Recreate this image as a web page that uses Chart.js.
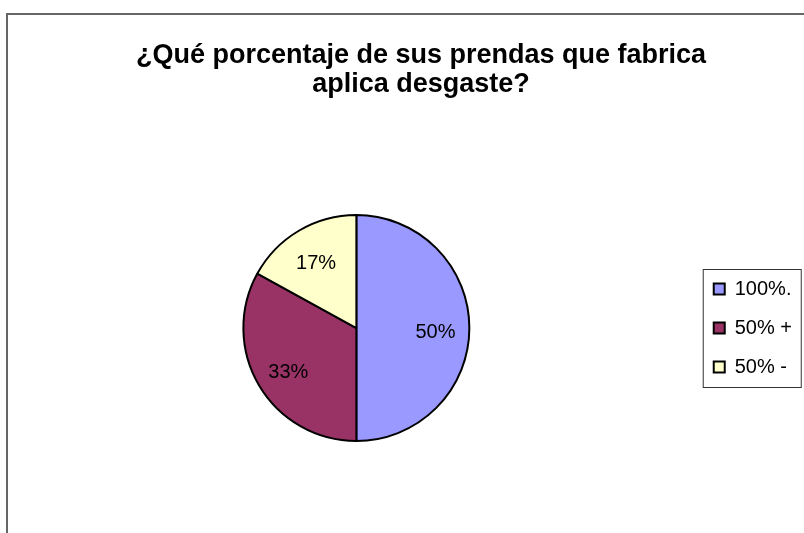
<!DOCTYPE html>
<html>
<head>
<meta charset="utf-8">
<title>Desgaste</title>
<script src="https://cdn.jsdelivr.net/npm/chart.js@4/dist/chart.umd.min.js"></script>
<style>
  html, body { margin: 0; padding: 0; background: #fff; overflow: hidden; }
  #wrap { position: absolute; left: 0; top: 0; width: 804px; height: 533px; overflow: hidden; }
  #desgasteChart { display: block; }
</style>
</head>
<body>
<div id="wrap"><canvas id="desgasteChart" width="844" height="560"></canvas></div>
<script>
var categories = ['100%.', '50% +', '50% -'];
var shares = [50, 33, 17];
var sliceColors = ['#9999ff', '#993366', '#ffffcc'];
var titleLines = ['¿Qué porcentaje de sus prendas que fabrica', 'aplica desgaste?'];

(function(){
  var FONT = '"Liberation Sans", Arial, sans-serif';

  // outer frame of the chart (right and bottom edges fall outside the page)
  var framePlugin = {
    id: 'frame',
    beforeDraw: function(chart){
      var ctx = chart.ctx;
      ctx.save();
      ctx.strokeStyle = '#666';
      ctx.lineWidth = 2;
      ctx.beginPath();
      ctx.moveTo(7, chart.height);
      ctx.lineTo(7, 14);
      ctx.lineTo(chart.width, 14);
      ctx.stroke();
      ctx.restore();
    }
  };

  // the title sits a bit right of the plot + legend centre
  var titleShiftPlugin = {
    id: 'titleShift',
    afterLayout: function(chart){
      var t = chart.titleBlock;
      if(!t) return;
      t.left += 11;
      t.right += 11;
    }
  };

  // thin box round the legend entries
  var legendBoxPlugin = {
    id: 'legendBox',
    afterDraw: function(chart){
      var lg = chart.legend;
      if(!lg || !lg.legendHitBoxes || !lg.legendHitBoxes.length) return;
      var boxes = lg.legendHitBoxes;
      var first = boxes[0], last = boxes[boxes.length - 1];
      var top = first.top + first.height / 2 - 20;
      var bottom = last.top + last.height / 2 + 20;
      var ctx = chart.ctx;
      ctx.save();
      ctx.strokeStyle = '#333';
      ctx.lineWidth = 1;
      ctx.strokeRect(lg.left + 8.5, Math.round(top) + 0.5, 98, Math.round(bottom - top));
      ctx.restore();
    }
  };

  // percentage text inside each slice
  var sliceLabelPlugin = {
    id: 'sliceLabels',
    afterDatasetsDraw: function(chart){
      var ctx = chart.ctx;
      var meta = chart.getDatasetMeta(0);
      var values = chart.data.datasets[0].data;
      ctx.save();
      ctx.font = '20px ' + FONT;
      ctx.fillStyle = '#000';
      ctx.textAlign = 'center';
      ctx.textBaseline = 'middle';
      meta.data.forEach(function(arc, i){
        var p = arc.getProps(['x', 'y', 'startAngle', 'endAngle', 'outerRadius'], true);
        var mid = (p.startAngle + p.endAngle) / 2;
        var r = p.outerRadius * 0.7;
        ctx.fillText(values[i] + '%', p.x + Math.cos(mid) * r, p.y + Math.sin(mid) * r + 4);
      });
      ctx.restore();
    }
  };

  var el = document.getElementById('desgasteChart');
  new Chart(el.getContext('2d'), {
    type: 'pie',
    data: {
      labels: categories,
      datasets: [{
        data: shares,
        backgroundColor: sliceColors,
        borderColor: '#000',
        borderWidth: 2,
        hoverOffset: 0
      }]
    },
    options: {
      responsive: false,
      animation: false,
      events: [],
      layout: { padding: { left: 18, right: 42, top: 0, bottom: 118 } },
      plugins: {
        title: {
          display: true,
          text: titleLines,
          color: '#000',
          font: { family: FONT, size: 27, weight: 'bold', lineHeight: 1.08 },
          padding: { top: 41, bottom: 114.7 }
        },
        legend: {
          position: 'right',
          fullSize: false,
          labels: {
            color: '#000',
            font: { family: FONT, size: 20 },
            boxWidth: 11,
            boxHeight: 11,
            padding: 19
          }
        },
        tooltip: { enabled: false }
      }
    },
    plugins: [framePlugin, titleShiftPlugin, legendBoxPlugin, sliceLabelPlugin]
  });
})();
</script>
</body>
</html>
